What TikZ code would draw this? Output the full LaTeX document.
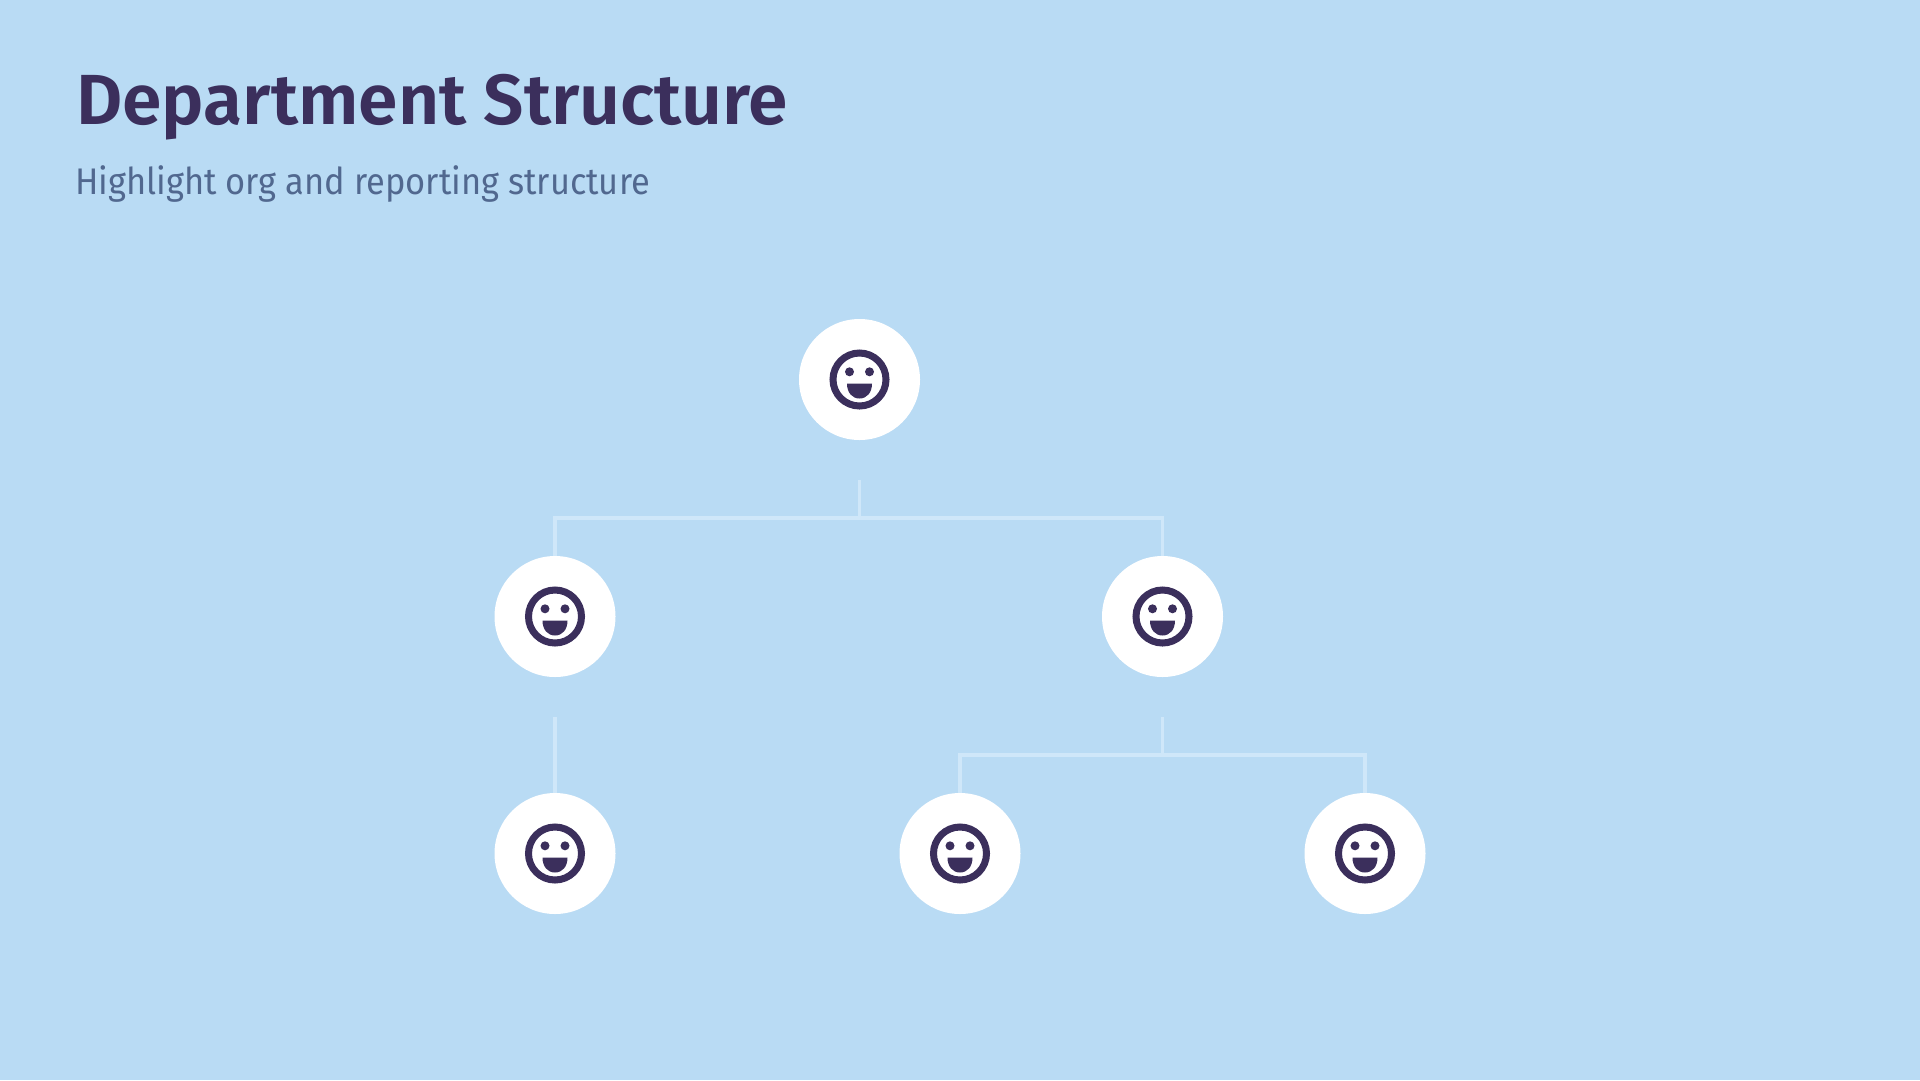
\documentclass[tikz,border=0pt]{standalone}
\usepackage{fontspec}
\setmainfont{Fira Sans}
\newfontfamily\titlefont[FakeStretch=1.005]{Fira Sans SemiBold}
\newfontfamily\subfont[FakeStretch=0.93]{Fira Sans}
\definecolor{bgblue}{HTML}{B9DBF4}
\definecolor{ink}{HTML}{3B2F5C}
\definecolor{subink}{HTML}{51688F}
\definecolor{linkc}{HTML}{CFE7F9}
\tikzset{
  x=1pt,y=-1pt,
  person/.style={circle,fill=white,draw=none,minimum size=121pt,inner sep=0pt},
  link/.style={draw=linkc,line width=3.5pt},
  face/.pic={
    \draw[ink,line width=7pt,fill=white] (0,0) circle (26.5pt);
    \fill[ink] (-10,-7.7) circle (4.5pt) (10,-7.7) circle (4.5pt);
    \fill[ink] (-12.5,4) -- (12.5,4) .. controls (12.5,13) and (7.5,19) .. (0,19) .. controls (-7.5,19) and (-12.5,13) .. (-12.5,4) -- cycle;
  },
  titletext/.style={anchor=base west,inner sep=0pt,text=ink,font=\fontsize{71pt}{80pt}\titlefont},
  subtext/.style={anchor=base west,inner sep=0pt,text=subink,font=\fontsize{37pt}{44pt}\subfont},
}
\begin{document}
\begin{tikzpicture}
\useasboundingbox[fill=bgblue] (0,0) rectangle (1920,1080);
\node[titletext] (title) at (76,124) {Department Structure};
\node[subtext] (subtitle) at (75,194) {Highlight org and reporting structure};
\node[person] (root) at (859.5,379.5) {};
\node[person] (mgrL) at (555,616.5) {};
\node[person] (mgrR) at (1162.5,616.5) {};
\node[person] (leafA) at (555,853.5) {};
\node[person] (leafB) at (960,853.5) {};
\node[person] (leafC) at (1365,853.5) {};
\foreach \n in {root,mgrL,mgrR,leafA,leafB,leafC} \pic at (\n) {face};
\coordinate (rootStub) at ([yshift=-40pt]root.south);
\coordinate (rootBus) at ([yshift=-78pt]root.south);
\coordinate (mgrLStub) at ([yshift=-40pt]mgrL.south);
\coordinate (mgrRStub) at ([yshift=-40pt]mgrR.south);
\coordinate (mgrRBus) at ([yshift=-78pt]mgrR.south);
\draw[link] (rootStub) -- (rootBus);
\draw[link] (mgrL.north) |- (rootBus) -| (mgrR.north);
\draw[link] (mgrLStub) -- (leafA.north);
\draw[link] (mgrRStub) -- (mgrRBus);
\draw[link] (leafB.north) |- (mgrRBus) -| (leafC.north);
\end{tikzpicture}
\end{document}
